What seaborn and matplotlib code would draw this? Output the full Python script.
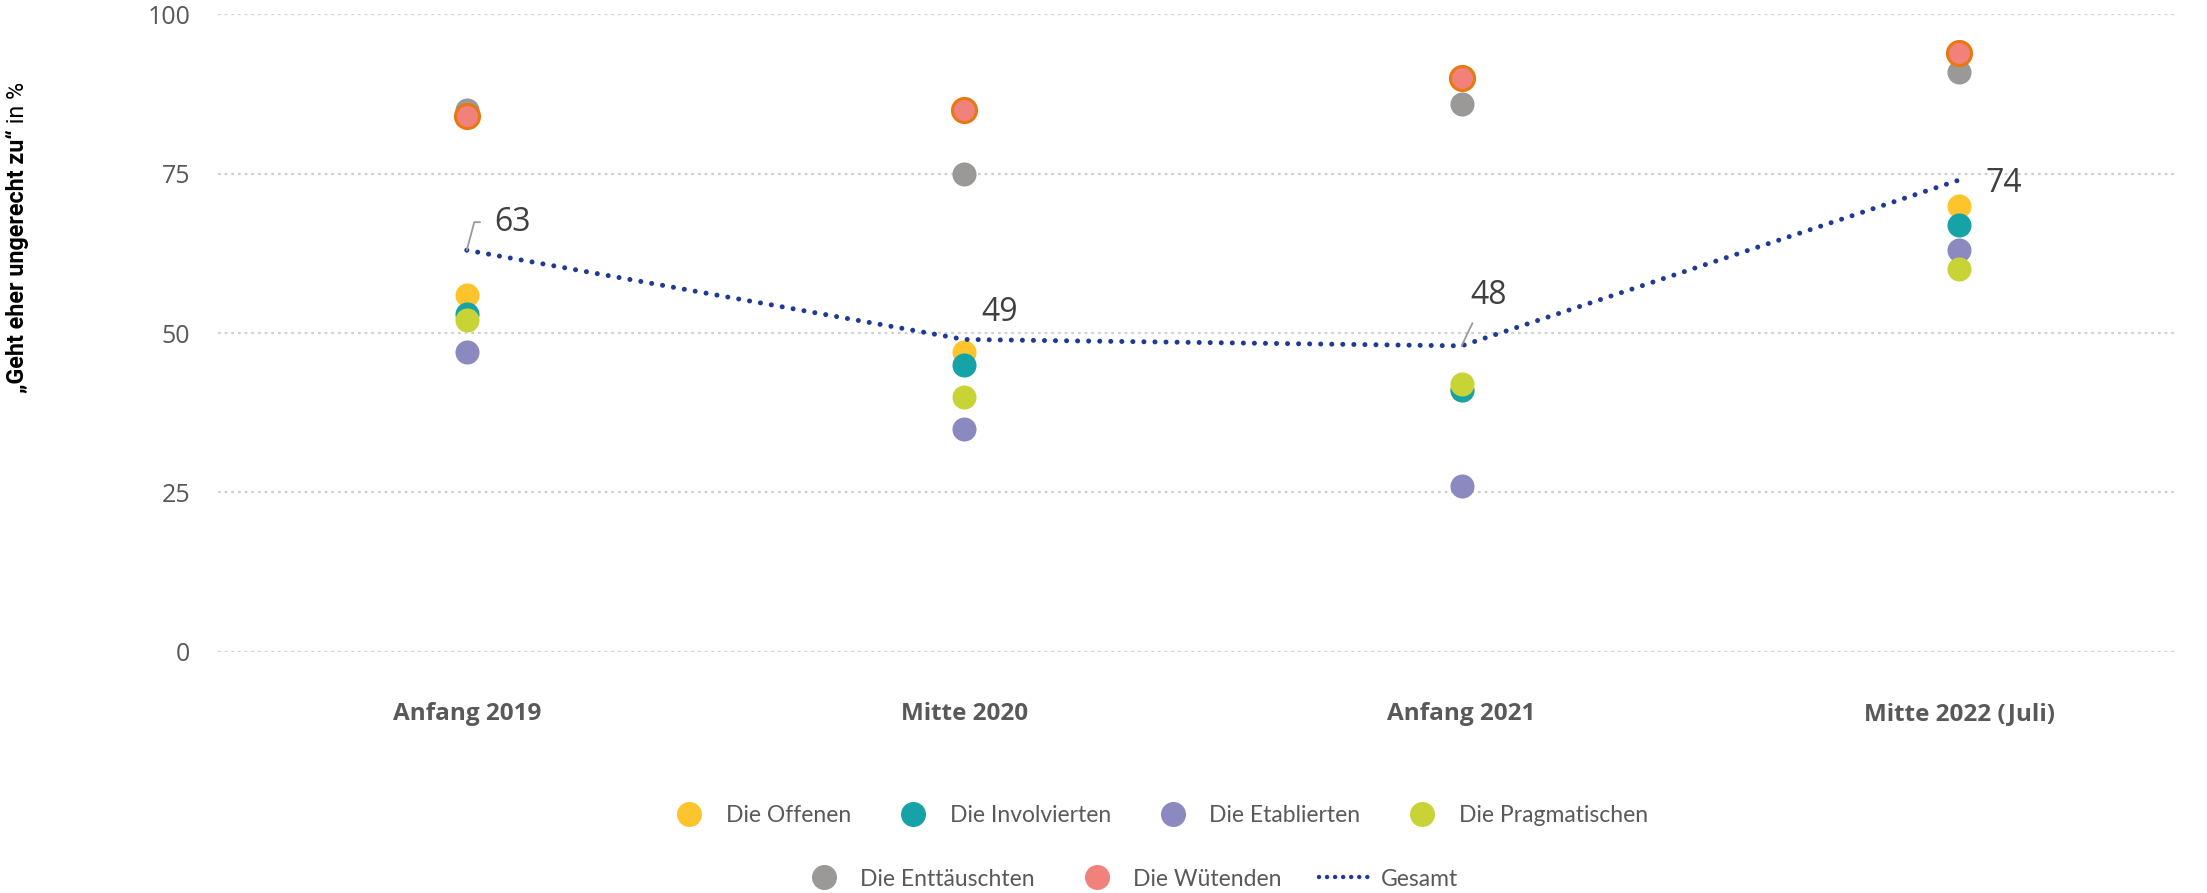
import numpy as np
import pandas as pd
import matplotlib
matplotlib.use("Agg")
import matplotlib.pyplot as plt
from matplotlib.lines import Line2D
import seaborn as sns

# data
periods = ["Anfang 2019", "Mitte 2020", "Anfang 2021", "Mitte 2022 (Juli)"]
groups = ["Die Offenen", "Die Involvierten", "Die Etablierten", "Die Pragmatischen",
          "Die Enttäuschten", "Die Wütenden"]
offenen = [56, 47, 41, 70]
involvierten = [53, 45, 41, 67]
etablierten = [47, 35, 26, 63]
pragmatischen = [52, 40, 42, 60]
enttaeuschten = [85, 75, 86, 91]
wuetenden = [84, 85, 90, 94]
gesamt = [63, 49, 48, 74]
yticks = [0, 25, 50, 75, 100]

colors = ["#FEC42D", "#15A3A8", "#8A8AC0", "#C8D435", "#9B9898", "#F0817B"]
line_color = "#1F3A96"
text_grey = "#595959"

df = pd.DataFrame({
    "period": periods * len(groups),
    "group": np.repeat(groups, len(periods)),
    "value": offenen + involvierten + etablierten + pragmatischen + enttaeuschten + wuetenden,
})

sns.set_style("white")
plt.rcParams["font.family"] = ["Open Sans", "DejaVu Sans"]

fig = plt.figure(figsize=(22.07, 8.93), dpi=100)
ax = fig.add_axes([0.0988, 0.270, 0.888, 0.714])

for i, g in enumerate(groups):
    sub = df[df["group"] == g]
    edge = "#E8790E" if g == "Die Wütenden" else colors[i]
    sns.scatterplot(data=sub, x="period", y="value", color=colors[i], s=300,
                    edgecolor=edge, linewidth=2.2 if g == "Die Wütenden" else 0,
                    ax=ax, zorder=3, clip_on=False, legend=False)

sns.lineplot(x=periods, y=gesamt, color=line_color, linewidth=3.6,
             linestyle=(0, (0.01, 2.2)), dash_capstyle="round", ax=ax, zorder=4)

# value labels for Gesamt
lab_kw = dict(textcoords="offset pixels", fontsize=23, color="#404040",
              ha="center", va="center", zorder=5)
ax.annotate(str(gesamt[0]), xy=(0, gesamt[0]), xytext=(46, 28), **lab_kw,
            arrowprops=dict(arrowstyle="-", color="#9a9a9a", lw=1.3, relpos=(0, 0.5),
                            shrinkA=8, shrinkB=0,
                            connectionstyle="angle,angleA=0,angleB=75,rad=0"))
ax.annotate(str(gesamt[1]), xy=(1, gesamt[1]), xytext=(36, 27), **lab_kw)
ax.annotate(str(gesamt[2]), xy=(2, gesamt[2]), xytext=(27, 50), **lab_kw,
            arrowprops=dict(arrowstyle="-", color="#9a9a9a", lw=1.3, relpos=(0.2, 0),
                            shrinkA=6, shrinkB=0))
ax.annotate(str(gesamt[3]), xy=(3, gesamt[3]), xytext=(45, -3), **lab_kw)

ax.set_xlim(-0.5, 3.44)
ax.set_ylim(0, 100)
ax.set_yticks(yticks)
ax.set_xlabel("")
ax.set_ylabel("")
ax.grid(axis="y", color="#CFCFCF", linestyle=(0, (1.2, 1.8)), linewidth=1.6)
ax.set_axisbelow(True)
sns.despine(ax=ax, left=True, bottom=True)
ax.tick_params(axis="y", length=0, pad=20, labelsize=18, labelcolor=text_grey)
ax.tick_params(axis="x", length=0, pad=36, labelsize=17.5, labelcolor=text_grey)
for t in ax.get_xticklabels():
    t.set_fontweight("bold")

# y axis title: bold part + regular part, scaled to the reference length
ylab_font = ["Roboto", "DejaVu Sans"]
size = 20
x0, ybot, target = 17 / 2207, 1 - 393 / 893, 310
for _ in range(2):
    for t in list(fig.texts):
        t.remove()
    t1 = fig.text(x0, ybot, "„Geht eher ungerecht zu“", rotation=90,
                  ha="center", va="bottom", fontsize=size, fontweight="bold",
                  family=ylab_font, color="black")
    fig.canvas.draw()
    bb = t1.get_window_extent()
    t2 = fig.text(x0, bb.y1 / fig.bbox.height, " in %", rotation=90,
                  ha="center", va="bottom", fontsize=size, family=ylab_font, color="black")
    fig.canvas.draw()
    total = t2.get_window_extent().y1 - bb.y0
    size = size * target / total

# legend, two centred rows
def dot(c):
    return Line2D([], [], marker="o", linestyle="", markersize=17,
                  markerfacecolor=c, markeredgecolor=c)

row1 = [dot(c) for c in colors[:4]]
row2 = [dot(c) for c in colors[4:]] + [
    Line2D([], [], color=line_color, linewidth=3.2, linestyle=(0, (0.01, 1.8)),
           dash_capstyle="round")]
leg_kw = dict(frameon=False, labelcolor=text_grey, handletextpad=0.5,
              columnspacing=1.6, handlelength=2.2, prop={"family": ["Lato", "DejaVu Sans"], "size": 16.5})
l1 = fig.legend(row1, groups[:4], loc="center", ncol=4,
                bbox_to_anchor=(1156 / 2207, 1 - 816 / 893), **leg_kw)
l2 = fig.legend(row2, groups[4:] + ["Gesamt"], loc="center", ncol=3,
                bbox_to_anchor=(1128 / 2207, 1 - 879 / 893), **leg_kw)

fig.savefig("out.png", dpi=100)
